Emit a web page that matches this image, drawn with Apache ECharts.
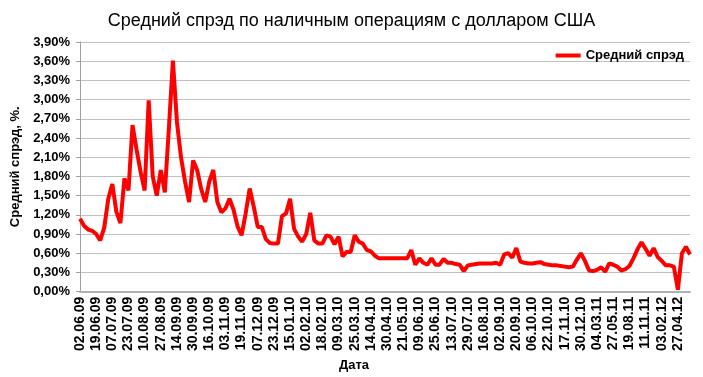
<!DOCTYPE html>
<html>
<head>
<meta charset="utf-8">
<script src="https://cdn.jsdelivr.net/npm/echarts/dist/echarts.min.js"></script>
<style>
  html, body { margin: 0; padding: 0; background: #fff; }
  #main { width: 703px; height: 377px; }
</style>
</head>
<body>
<div id="main"></div>
<script>
// date labels, one every 4 points
const dateLabels = [
  '02.06.09', '19.06.09', '07.07.09', '23.07.09', '10.08.09', '27.08.09', '14.09.09', '30.09.09',
  '16.10.09', '03.11.09', '19.11.09', '07.12.09', '23.12.09', '15.01.10', '02.02.10', '18.02.10',
  '09.03.10', '25.03.10', '14.04.10', '30.04.10', '21.05.10', '09.06.10', '25.06.10', '13.07.10',
  '29.07.10', '16.08.10', '02.09.10', '20.09.10', '06.10.10', '22.10.10', '17.11.10', '30.12.10',
  '04.03.11', '27.05.11', '19.08.11', '11.11.11', '03.02.12', '27.04.12'
]
const pointsPerLabel = 4

// average spread, %
const spread = [
  1.14, 1.03, 0.97, 0.95, 0.90, 0.80, 1.00, 1.45,
  1.68, 1.25, 1.07, 1.77, 1.58, 2.60, 2.22, 1.87,
  1.58, 2.99, 1.80, 1.50, 1.90, 1.55, 2.55, 3.61,
  2.65, 2.10, 1.72, 1.40, 2.05, 1.90, 1.60, 1.40,
  1.72, 1.90, 1.40, 1.24, 1.30, 1.45, 1.28, 1.02,
  0.88, 1.22, 1.61, 1.33, 1.01, 1.01, 0.82, 0.76,
  0.75, 0.75, 1.18, 1.22, 1.45, 0.98, 0.86, 0.78,
  0.90, 1.23, 0.80, 0.75, 0.75, 0.88, 0.86, 0.74,
  0.86, 0.55, 0.62, 0.62, 0.88, 0.78, 0.75, 0.65,
  0.63, 0.56, 0.52, 0.52, 0.52, 0.52, 0.52, 0.52,
  0.52, 0.52, 0.65, 0.42, 0.52, 0.45, 0.42, 0.52,
  0.42, 0.42, 0.51, 0.45, 0.45, 0.43, 0.42, 0.32,
  0.41, 0.42, 0.43, 0.44, 0.44, 0.44, 0.44, 0.45,
  0.42, 0.58, 0.60, 0.53, 0.68, 0.47, 0.45, 0.44,
  0.44, 0.45, 0.46, 0.43, 0.42, 0.41, 0.41, 0.40,
  0.39, 0.38, 0.39, 0.50, 0.60, 0.48, 0.33, 0.32,
  0.34, 0.38, 0.31, 0.44, 0.42, 0.39, 0.33, 0.35,
  0.40, 0.52, 0.66, 0.77, 0.67, 0.56, 0.68, 0.54,
  0.48, 0.41, 0.41, 0.39, 0.03, 0.60, 0.70, 0.58
]

const categories = spread.map((v, i) =>
  i % pointsPerLabel === 0 && dateLabels[i / pointsPerLabel] ? dateLabels[i / pointsPerLabel] : ''
)

const font = '"Liberation Sans", Arial, sans-serif'
const chart = echarts.init(document.getElementById('main'))
const option = {
  animation: false,
  backgroundColor: '#fff',
  title: {
    text: 'Средний спрэд по наличным операциям с долларом США',
    left: 'center',
    top: 7,
    textStyle: { fontFamily: font, fontSize: 18, fontWeight: 'normal', color: '#000' }
  },
  legend: {
    right: 14,
    top: 44,
    itemWidth: 25,
    itemHeight: 4,
    itemGap: 10,
    textStyle: { fontFamily: font, fontSize: 13, fontWeight: 'bold', color: '#000' },
    data: [{ name: 'Средний спрэд', icon: 'rect' }]
  },
  grid: { left: 80, right: 13, top: 42, bottom: 79 },
  xAxis: {
    type: 'category',
    data: categories,
    boundaryGap: false,
    name: 'Дата',
    nameLocation: 'middle',
    nameGap: 62,
    nameTextStyle: { fontFamily: font, fontSize: 13, fontWeight: 'bold', color: '#000', padding: [0, 62, 0, 0] },
    axisLine: { lineStyle: { color: '#b0b0b0', width: 2 } },
    axisTick: { show: false },
    axisLabel: {
      interval: 0,
      rotate: 90,
      margin: 5,
      fontFamily: font,
      fontSize: 14,
      fontWeight: 'bold',
      color: '#000'
    },
    splitLine: { show: false }
  },
  yAxis: {
    type: 'value',
    min: 0,
    max: 3.9,
    interval: 0.3,
    name: 'Средний спрэд, %.',
    nameLocation: 'middle',
    nameGap: 57,
    nameTextStyle: { fontFamily: font, fontSize: 13, fontWeight: 'bold', color: '#000' },
    axisLine: { show: true, lineStyle: { color: '#a0a0a0' } },
    axisTick: { show: true, length: 4, lineStyle: { color: '#a0a0a0' } },
    axisLabel: {
      margin: 10,
      fontFamily: font,
      fontSize: 13,
      fontWeight: 'bold',
      color: '#000',
      formatter: v => v.toFixed(2).replace('.', ',') + '%'
    },
    splitLine: { lineStyle: { color: '#c0c0c0', width: 1 } }
  },
  series: [
    {
      name: 'Средний спрэд',
      type: 'line',
      data: spread,
      symbol: 'none',
      lineStyle: { color: '#ff0000', width: 4 },
      itemStyle: { color: '#ff0000' }
    }
  ]
}
chart.setOption(option)
</script>
</body>
</html>
